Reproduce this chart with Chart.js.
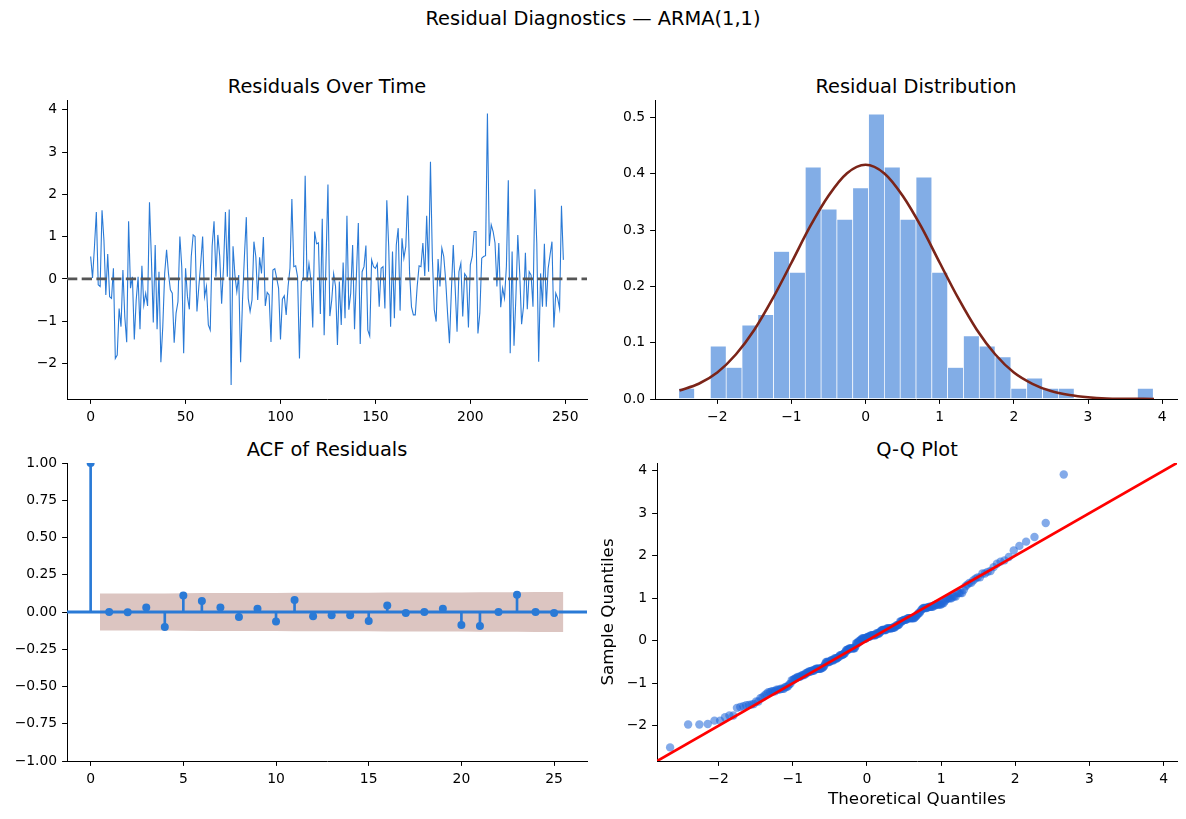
<!DOCTYPE html>
<html lang="en">
<head>
<meta charset="UTF-8">
<title>Residual Diagnostics — ARMA(1,1)</title>
<script src="https://cdn.jsdelivr.net/npm/chart.js"></script>
<style>
  body {
    margin: 0;
    background: #fff;
    width: 1186px;
    height: 819px;
    position: relative;
    overflow: hidden;
    font-family: 'DejaVu Sans', sans-serif;
  }
  h1 {
    position: absolute;
    left: 0;
    top: 7px;
    width: 1186px;
    margin: 0;
    text-align: center;
    font-size: 19.4px;
    font-weight: normal;
    color: #000;
  }
  .panel { position: absolute; }
  .ttl {
    position: absolute;
    height: 24px;
    line-height: 24px;
    text-align: center;
    font-size: 19.4px;
    color: #000;
    white-space: nowrap;
  }
</style>
</head>
<body>

<h1>Residual Diagnostics — ARMA(1,1)</h1>

<div class="ttl" style="left:67px; top:75px; width:520px">Residuals Over Time</div>
<div class="ttl" style="left:655px; top:75px; width:522px">Residual Distribution</div>
<div class="ttl" style="left:67px; top:438px; width:520px">ACF of Residuals</div>
<div class="ttl" style="left:657px; top:438px; width:520px">Q-Q Plot</div>

<div class="panel" style="left:7px; top:74px; width:588px; height:355px"><canvas id="resid"></canvas></div>
<div class="panel" style="left:595px; top:74px; width:590px; height:355px"><canvas id="hist"></canvas></div>
<div class="panel" style="left:7px; top:437px; width:588px; height:354px"><canvas id="acf"></canvas></div>
<div class="panel" style="left:599px; top:437px; width:586px; height:373px"><canvas id="qq"></canvas></div>

<script>
// residuals (t = 0..249)
const residuals = [
  0.53, 0.02, 0.75, 1.58, -0.14, -0.18, 1.62, 0.92, -0.38, 0.59,
  -0.42, -0.46, 0.25, -1.88, -1.80, -0.70, -1.13, 0.21, -0.90, -1.50,
  1.36, -0.22, 0.05, -1.43, -0.50, 0.05, -1.19, 0.31, -0.62, -0.34,
  -0.64, 1.81, 0.49, -1.03, 0.80, -1.19, 0.17, -1.97, -1.13, 0.13,
  0.69, 0.13, -0.26, -0.34, -1.51, -0.81, -0.54, 1.00, 0.29, -1.76,
  0.25, -0.42, -0.72, 0.53, 1.04, 1.00, -0.77, -0.18, 0.37, 1.00,
  -0.42, -0.18, -1.09, -1.21, 0.77, 1.36, 0.05, 1.04, 0.53, -0.59,
  0.29, 1.58, 0.05, 1.64, -2.51, 0.77, 0.09, -0.30, 0.09, -1.97,
  -0.50, 0.53, 1.46, -0.46, -0.77, -0.50, 0.88, 0.53, -0.50, 0.51,
  0.13, 0.99, -0.64, -0.32, -0.38, -1.49, 0.21, 0.24, 0.02, -0.22,
  -1.43, -0.48, -0.40, -0.85, -0.18, 0.25, 1.89, 0.29, 0.31, 0.05,
  -1.88, -0.06, -0.02, 2.44, -0.06, 0.36, -0.02, -1.15, 1.12, 0.83,
  0.85, -0.83, 1.42, -1.33, 0.45, 2.23, -0.88, -0.50, 0.12, -0.18,
  -1.56, -0.06, -1.09, 0.39, -0.93, 1.49, -0.73, -0.34, 0.80, -1.19,
  0.09, 1.32, -1.54, 0.17, 0.29, 0.79, -1.21, -1.35, 0.45, 0.29,
  0.25, 0.36, -0.66, 0.25, 0.29, -0.70, 1.86, 0.77, -1.13, 0.65,
  -0.93, 0.80, 1.20, -0.75, 0.96, 0.49, 0.77, 1.97, 0.13, -0.66,
  -0.85, -0.85, -0.18, 0.31, 0.29, 0.85, 0.07, 1.49, 0.17, 2.77,
  0.49, -0.73, -1.01, 0.47, -0.18, 0.73, 0.53, -0.02, -0.81, -1.52,
  -0.30, 0.80, -0.20, -1.25, 0.17, 0.37, -0.89, 0.12, 0.05, -1.15,
  0.33, 0.53, 1.12, 1.12, -1.29, -0.81, 0.49, 0.53, 0.55, 3.91,
  0.78, 1.28, 1.12, 0.85, -0.18, 0.85, -0.67, -0.22, -0.46, 0.30,
  2.33, -1.76, 0.65, -1.58, -0.42, 1.04, 0.13, -1.07, -0.66, 0.62,
  -0.72, 0.17, 0.09, -0.66, 2.12, 0.85, -1.96, 0.13, -0.66, 0.83,
  -0.66, 0.25, 0.57, 0.88, -1.15, -0.34, -0.46, -0.70, 1.73, 0.45
];

// histogram (30 bins, density) and fitted normal curve
const histRange = [-2.52, 3.88];
const binDensity = [
  0.019, 0, 0.094, 0.056, 0.131, 0.150, 0.262, 0.225, 0.412, 0.337,
  0.319, 0.375, 0.506, 0.412, 0.319, 0.394, 0.225, 0.056, 0.112, 0.094,
  0.075, 0.019, 0.037, 0.019, 0.019, 0, 0, 0, 0, 0.019
];
const curveX = [-2.51, -2.25, -2.0, -1.75, -1.5, -1.25, -1.0, -0.75, -0.5, -0.25, 0,
  0.25, 0.5, 0.75, 1.0, 1.25, 1.5, 1.75, 2.0, 2.25, 2.5, 2.75, 3.0, 3.25, 3.5, 3.89];
const curveY = [0.015, 0.027, 0.047, 0.079, 0.123, 0.179, 0.242, 0.306, 0.361, 0.401, 0.416,
  0.401, 0.361, 0.306, 0.242, 0.179, 0.123, 0.079, 0.047, 0.027, 0.014, 0.007, 0.003, 0.001, 0.0005, 0.0001];

// ACF by lag and the confidence band half-width (lags 1..25)
const acfLags = [0, 1, 2, 3, 4, 5, 6, 7, 8, 9, 10, 11, 12, 13, 14, 15, 16, 17, 18, 19, 20, 21, 22, 23, 24, 25];
const acfVals = [1.0, 0.0, -0.002, 0.031, -0.101, 0.110, 0.074, 0.031, -0.034, 0.022, -0.063, 0.081, -0.029,
  -0.022, -0.022, -0.061, 0.043, -0.007, 0.0, 0.022, -0.088, -0.094, 0.0, 0.115, 0.0, -0.007];
const confBand = [0.124, 0.124, 0.124, 0.124, 0.126, 0.128, 0.128, 0.128, 0.128, 0.128, 0.129, 0.130, 0.130,
  0.130, 0.130, 0.131, 0.131, 0.131, 0.131, 0.131, 0.132, 0.133, 0.133, 0.135, 0.135];

// tick labels
const residXTicks = [0, 50, 100, 150, 200, 250];
const residYTicks = [-2, -1, 0, 1, 2, 3, 4];
const histXTicks = [-2, -1, 0, 1, 2, 3, 4];
const histYTicks = [0, 0.1, 0.2, 0.3, 0.4, 0.5];
const acfXTicks = [0, 5, 10, 15, 20, 25];
const acfYTicks = [-1, -0.75, -0.5, -0.25, 0, 0.25, 0.5, 0.75, 1];
const qqTicks = [-2, -1, 0, 1, 2, 3, 4];

const BLUE = '#2a7ad6';

Chart.defaults.font.family = "'DejaVu Sans', sans-serif";
Chart.defaults.color = '#000';

// inverse normal cdf (Acklam) for the theoretical quantiles
function probit(p) {
  const a = [-39.69683028665376, 220.9460984245205, -275.9285104469687, 138.3577518672690, -30.66479806614716, 2.506628277459239];
  const b = [-54.47609879822406, 161.5858368580409, -155.6989798598866, 66.80131188771972, -13.28068155288572];
  const c = [-0.007784894002430293, -0.3223964580411365, -2.400758277161838, -2.549732539343734, 4.374664141464968, 2.938163982698783];
  const d = [0.007784695709041462, 0.3224671290700398, 2.445134137142996, 3.754408661907416];
  const lo = 0.02425;
  if (p < lo) {
    const q = Math.sqrt(-2 * Math.log(p));
    return (((((c[0]*q+c[1])*q+c[2])*q+c[3])*q+c[4])*q+c[5]) / ((((d[0]*q+d[1])*q+d[2])*q+d[3])*q+1);
  }
  if (p > 1 - lo) return -probit(1 - p);
  const q = p - 0.5, r = q * q;
  return (((((a[0]*r+a[1])*r+a[2])*r+a[3])*r+a[4])*r+a[5])*q / (((((b[0]*r+b[1])*r+b[2])*r+b[3])*r+b[4])*r+1);
}

function fmt(v, dec) {
  return v.toFixed(dec).replace('-', '\u2212');
}

function axis(dir, min, max, ticks, dec, size, label) {
  return {
    type: 'linear',
    min: min,
    max: max,
    offset: false,
    afterBuildTicks: s => { s.ticks = ticks.map(v => ({ value: v })); },
    afterFit: s => { if (dir === 'x') s.height = size; else s.width = size; },
    grid: { display: true, offset: false, drawOnChartArea: false, drawTicks: true, tickLength: 4.9, color: '#000', lineWidth: 1 },
    border: { display: true, color: '#000', width: 1 },
    ticks: { color: '#000', font: { size: 13.9 }, padding: 4.9, autoSkip: false, maxRotation: 0,
      callback: v => fmt(v, dec) },
    title: label ? { display: true, text: label, color: '#000', font: { size: 16.7 }, padding: 0 } : { display: false }
  };
}

// titles are html divs centred over the plot area; the canvas keeps 26px for them
function options(x, y) {
  return {
    responsive: true,
    maintainAspectRatio: false,
    animation: false,
    events: [],
    layout: { padding: { top: 26, right: 8 } },
    plugins: {
      legend: { display: false },
      tooltip: { enabled: false }
    },
    scales: { x: x, y: y }
  };
}

// residuals over time
const residX = [-12.45, 261.45];
new Chart(document.getElementById('resid'), {
  type: 'line',
  data: {
    datasets: [
      { data: [{ x: residX[0], y: 0 }, { x: residX[1], y: 0 }], borderColor: '#555555', borderWidth: 2.8,
        borderDash: [10.3, 4.4], pointRadius: 0, order: 0 },
      { data: residuals.map((v, i) => ({ x: i, y: v })), borderColor: BLUE, borderWidth: 1.1,
        pointRadius: 0, tension: 0, order: 1 }
    ]
  },
  options: options(
    axis('x', residX[0], residX[1], residXTicks, 0, 30),
    axis('y', -2.84, 4.23, residYTicks, 0, 60))
});

// residual distribution
const binW = (histRange[1] - histRange[0]) / binDensity.length;
new Chart(document.getElementById('hist'), {
  type: 'bar',
  data: {
    datasets: [
      { type: 'line', data: curveX.map((x, i) => ({ x: x, y: curveY[i] })), borderColor: '#7b2418', borderWidth: 2.6,
        pointRadius: 0, cubicInterpolationMode: 'monotone', order: 0 },
      { type: 'bar', data: binDensity.map((v, i) => ({ x: histRange[0] + binW * (i + 0.5), y: v })),
        backgroundColor: '#82ade6', borderColor: '#ffffff', borderWidth: 0.7, borderSkipped: false,
        barPercentage: 1, categoryPercentage: 1, order: 1 }
    ]
  },
  options: options(
    axis('x', -2.84, 4.2, histXTicks, 0, 30),
    axis('y', 0, 0.531, histYTicks, 1, 60))
});

// ACF
const acfX = [-1.275, 26.775];
const bandPts = sign => confBand.map((c, i) => {
  let lag = acfLags[i + 1];
  if (i === 0) lag -= 0.5;
  if (i === confBand.length - 1) lag += 0.5;
  return { x: lag, y: sign * c };
});
new Chart(document.getElementById('acf'), {
  type: 'scatter',
  data: {
    datasets: [
      { type: 'scatter', data: acfLags.map((l, i) => ({ x: l, y: acfVals[i] })), backgroundColor: BLUE,
        borderWidth: 0, pointRadius: 4, clip: 0, order: 0 },
      { type: 'bar', data: acfLags.map((l, i) => ({ x: l, y: [0, acfVals[i]] })), backgroundColor: BLUE,
        barThickness: 2, order: 1 },
      { type: 'line', data: [{ x: acfX[0], y: 0 }, { x: acfX[1], y: 0 }], borderColor: BLUE, borderWidth: 3,
        pointRadius: 0, order: 2 },
      { type: 'line', data: bandPts(1), borderWidth: 0, pointRadius: 0, fill: '+1',
        backgroundColor: '#dcc5c1', order: 3 },
      { type: 'line', data: bandPts(-1), borderWidth: 0, pointRadius: 0, order: 4 }
    ]
  },
  options: options(
    axis('x', acfX[0], acfX[1], acfXTicks, 0, 30),
    axis('y', -1, 1, acfYTicks, 2, 60))
});

// Q-Q plot
const sorted = residuals.slice().sort((a, b) => a - b);
const qqPoints = sorted.map((v, i) => ({ x: probit((i + 1) / (sorted.length + 1)), y: v }));
const qqLim = [-2.83, 4.18];
new Chart(document.getElementById('qq'), {
  type: 'scatter',
  data: {
    datasets: [
      { type: 'line', data: [{ x: qqLim[0], y: qqLim[0] }, { x: qqLim[1], y: qqLim[1] }], borderColor: '#ff0000',
        borderWidth: 2.8, pointRadius: 0, order: 0 },
      { type: 'scatter', data: qqPoints, backgroundColor: 'rgba(30,100,215,0.55)', borderWidth: 0,
        pointRadius: 4.2, order: 1 }
    ]
  },
  options: options(
    axis('x', qqLim[0], qqLim[1], qqTicks, 0, 49, 'Theoretical Quantiles'),
    axis('y', qqLim[0], qqLim[1], qqTicks, 0, 58, 'Sample Quantiles'))
});
</script>
</body>
</html>
